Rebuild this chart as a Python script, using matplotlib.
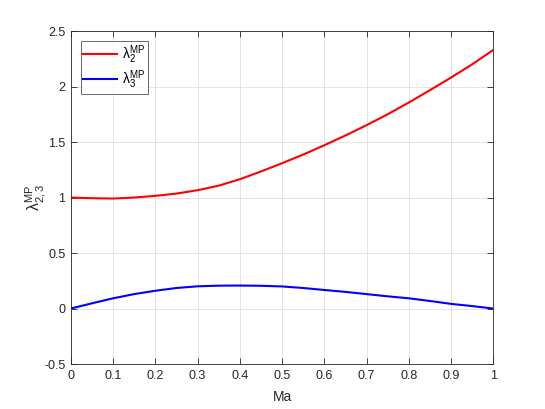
import numpy as np
import matplotlib
matplotlib.use("Agg")
import matplotlib.pyplot as plt

# Data
ma = [0.0, 0.05, 0.1, 0.15, 0.2, 0.25, 0.3, 0.35, 0.4, 0.45, 0.5,
      0.55, 0.6, 0.65, 0.7, 0.75, 0.8, 0.85, 0.9, 0.95, 1.0]
lam2 = [1.0, 0.994, 0.991, 1.0, 1.015, 1.036, 1.066, 1.107, 1.165, 1.235, 1.309,
        1.387, 1.471, 1.559, 1.652, 1.75, 1.856, 1.967, 2.081, 2.2, 2.33]
lam3 = [0.0, 0.047, 0.092, 0.13, 0.16, 0.185, 0.2, 0.206, 0.207, 0.205, 0.199,
        0.185, 0.167, 0.15, 0.13, 0.11, 0.092, 0.068, 0.042, 0.022, 0.0]

xticks = np.arange(0, 1.01, 0.1)
xticklabels = ["0", "0.1", "0.2", "0.3", "0.4", "0.5", "0.6", "0.7", "0.8", "0.9", "1"]
yticks = np.arange(-0.5, 2.51, 0.5)
yticklabels = ["-0.5", "0", "0.5", "1", "1.5", "2", "2.5"]

plt.rcParams["font.family"] = ["Liberation Sans", "DejaVu Sans"]
plt.rcParams["mathtext.fontset"] = "custom"
plt.rcParams["mathtext.rm"] = "Liberation Sans"
plt.rcParams["mathtext.it"] = "Liberation Sans"

dark = "#262626"

fig = plt.figure(figsize=(5.45, 4.09), dpi=100)
ax = fig.add_axes([0.130, 0.110, 0.775, 0.814])

ax.plot(ma, lam2, color="red", lw=1.5, label=r"$\mathregular{\lambda_2^{MP}}$")
ax.plot(ma, lam3, color="blue", lw=1.5, label=r"$\mathregular{\lambda_3^{MP}}$")

ax.set_xlim(0, 1)
ax.set_ylim(-0.5, 2.5)
ax.set_xticks(xticks)
ax.set_xticklabels(xticklabels)
ax.set_yticks(yticks)
ax.set_yticklabels(yticklabels)

ax.grid(True, color="#dfdfdf", lw=0.6)
ax.set_axisbelow(True)
ax.tick_params(direction="in", top=True, right=True, length=4, width=0.6,
               colors=dark, labelsize=9, pad=4)
for s in ax.spines.values():
    s.set_color(dark)
    s.set_linewidth(0.6)

ax.set_xlabel("Ma", fontsize=10, color=dark, labelpad=6)
ax.set_ylabel(r"$\mathregular{\lambda_{2,3}^{MP}}$", fontsize=11.5, color=dark, labelpad=-3)

leg = ax.legend(loc="upper left", fontsize=10, frameon=True, fancybox=False,
                edgecolor=dark, handlelength=2.4, borderaxespad=0.7,
                labelspacing=0.15, handletextpad=0.4, borderpad=0.2)
leg.get_frame().set_linewidth(0.6)

fig.savefig("out.png", dpi=100)
